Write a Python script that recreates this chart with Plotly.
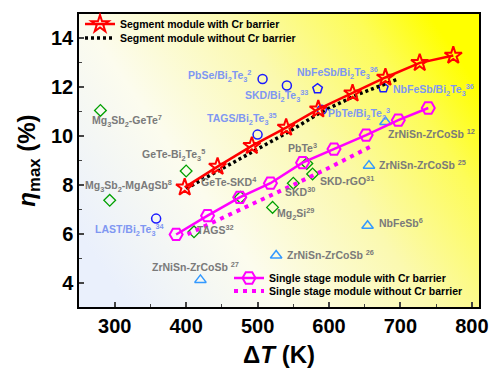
import base64
import plotly.graph_objects as go

# ---------------- data ----------------
seg_cr_dT = [398, 444, 492, 540, 585, 633, 679, 727, 774]
seg_cr_eta = [7.9, 8.75, 9.6, 10.35, 11.1, 11.75, 12.4, 13.0, 13.3]
seg_nocr_dT = [400, 450, 500, 545, 590, 640, 695]
seg_nocr_eta = [7.85, 8.65, 9.45, 10.2, 11.0, 11.7, 12.32]
single_cr_dT = [386, 430, 475, 518, 563, 607, 652, 697, 739]
single_cr_eta = [5.97, 6.74, 7.49, 8.07, 8.91, 9.47, 10.04, 10.65, 11.15]
single_nocr_dT = [402, 450, 500, 550, 600, 663]
single_nocr_eta = [5.98, 6.62, 7.32, 8.0, 8.7, 9.64]

circ_dT = [507, 500, 541, 590, 358]
circ_eta = [12.34, 10.06, 12.07, 11.08, 6.62]
pent_dT = [584, 676]
pent_eta = [11.94, 11.98]
tri_dT = [679, 656, 526, 420, 654]
tri_eta = [10.58, 8.79, 5.11, 4.11, 6.33]
dia_dT = [280, 400, 293, 411, 476, 521, 550, 577, 569]
dia_eta = [11.05, 8.57, 7.37, 6.08, 7.49, 7.08, 8.07, 8.45, 8.88]

blue_texts = ["PbSe/Bi<sub>2</sub>Te<sub>3</sub><sup>2</sup>",
              "SKD/Bi<sub>2</sub>Te<sub>3</sub><sup>33</sup>",
              "TAGS/Bi<sub>2</sub>Te<sub>3</sub><sup>35</sup>",
              "NbFeSb/Bi<sub>2</sub>Te<sub>3</sub><sup>36</sup>",
              "NbFeSb/Bi<sub>2</sub>Te<sub>3</sub><sup>36</sup>",
              "PbTe/Bi<sub>2</sub>Te<sub>3</sub><sup>3</sup>",
              "LAST/Bi<sub>2</sub>Te<sub>3</sub><sup>34</sup>"]
blue_x = [400, 479, 426, 553, 687, 596, 269]
blue_y = [12.45, 11.63, 10.72, 12.59, 11.87, 10.92, 6.17]

gray_texts = ["ZrNiSn-ZrCoSb <sup>12</sup>", "ZrNiSn-ZrCoSb <sup>25</sup>",
              "PbTe<sup>3</sup>", "SKD-rGO<sup>31</sup>", "SKD<sup>30</sup>",
              "Mg<sub>2</sub>Si<sup>29</sup>", "NbFeSb<sup>6</sup>",
              "ZrNiSn-ZrCoSb <sup>26</sup>", "ZrNiSn-ZrCoSb <sup>27</sup>",
              "TAGS<sup>32</sup>", "Mg<sub>3</sub>Sb<sub>2</sub>-MgAgSb<sup>8</sup>",
              "Mg<sub>3</sub>Sb<sub>2</sub>-GeTe<sup>7</sup>",
              "GeTe-Bi<sub>2</sub>Te<sub>3</sub><sup>5</sup>", "GeTe-SKD<sup>4</sup>"]
gray_x = [680, 667, 540, 584, 535, 525, 667, 538, 350, 413, 255, 265, 335, 418]
gray_y = [10.1, 8.82, 9.55, 8.2, 7.73, 6.81, 6.47, 5.13, 4.65, 6.17, 7.94, 10.6, 9.22, 8.14]

x_ticks = [300, 400, 500, 600, 700, 800]
y_ticks = [4, 6, 8, 10, 12, 14]

FONT = "Liberation Sans, Arial, sans-serif"
RED = "#ff0000"
MAG = "#ff00ff"

fig = go.Figure()

# background gradient image
svg = ('<svg xmlns="http://www.w3.org/2000/svg" width="100" height="100" preserveAspectRatio="none">'
       '<defs><linearGradient id="g" x1="0" y1="0.75" x2="1" y2="0.25">'
       '<stop offset="0" stop-color="#eaf0fc"/>'
       '<stop offset="0.3" stop-color="#fcfcee"/>'
       '<stop offset="0.6" stop-color="#fbf9b0"/>'
       '<stop offset="0.85" stop-color="#fdfc58"/>'
       '<stop offset="1" stop-color="#ffff00"/>'
       '</linearGradient></defs><rect width="100" height="100" fill="url(#g)"/></svg>')
src = "data:image/svg+xml;base64," + base64.b64encode(svg.encode()).decode()
fig.add_layout_image(dict(source=src, xref="paper", yref="paper", x=0, y=1, sizex=1, sizey=1,
                          sizing="stretch", layer="below", xanchor="left", yanchor="top"))

# literature points
fig.add_trace(go.Scatter(x=circ_dT, y=circ_eta, mode="markers", showlegend=False,
                         marker=dict(symbol="circle-open", size=9, color="#1a1aff", line=dict(width=1.5))))
fig.add_trace(go.Scatter(x=pent_dT, y=pent_eta, mode="markers", showlegend=False,
                         marker=dict(symbol="pentagon-open", size=10, color="#1a1aff", line=dict(width=1.5))))
fig.add_trace(go.Scatter(x=tri_dT, y=tri_eta, mode="markers", showlegend=False,
                         marker=dict(symbol="triangle-up-open", size=10, color="#3399ff", line=dict(width=1.5))))
fig.add_trace(go.Scatter(x=dia_dT, y=dia_eta, mode="markers", showlegend=False,
                         marker=dict(symbol="diamond-open", size=9, color="#00a000", line=dict(width=1.3))))

# module series
fig.add_trace(go.Scatter(x=single_nocr_dT, y=single_nocr_eta, mode="lines",
                         name="Single stage module without Cr barrier", legend="legend4",
                         line=dict(color=MAG, width=4, dash="4px,5px")))
fig.add_trace(go.Scatter(x=single_cr_dT, y=single_cr_eta, mode="lines+markers",
                         name="Single stage module with Cr barrier", legend="legend3",
                         line=dict(color=MAG, width=2.5),
                         marker=dict(symbol="hexagon2-open", size=13, color=MAG, line=dict(width=2))))
fig.add_trace(go.Scatter(x=seg_nocr_dT, y=seg_nocr_eta, mode="lines",
                         name="Segment module without Cr barrier", legend="legend2",
                         line=dict(color="black", width=3.5, dash="3px,3px")))
fig.add_trace(go.Scatter(x=seg_cr_dT, y=seg_cr_eta, mode="lines+markers",
                         name="Segment module with Cr barrier", legend="legend",
                         line=dict(color=RED, width=2.5),
                         marker=dict(symbol="star-open", size=13, color=RED, line=dict(width=2))))

anns = []
for t, x, y in zip(blue_texts, blue_x, blue_y):
    anns.append(dict(x=x, y=y, text=t, showarrow=False, xanchor="left", yanchor="middle",
                     font=dict(family=FONT, size=10.5, color="#7f97f2", weight="bold")))
for t, x, y in zip(gray_texts, gray_x, gray_y):
    anns.append(dict(x=x, y=y, text=t, showarrow=False, xanchor="left", yanchor="middle",
                     font=dict(family=FONT, size=10.5, color="#7a7a7a", weight="bold")))

L, R, T, B = 79, 479, 14, 307
W, H = 492, 368


def px(xp):
    return (xp - L) / (R - L)


def py(yp):
    return (B - yp) / (B - T)


leg_common = dict(bgcolor="rgba(0,0,0,0)", borderwidth=0, xanchor="left", yanchor="middle",
                  font=dict(family=FONT, size=10.5, color="black", weight="bold"),
                  itemwidth=30, tracegroupgap=0)

fig.update_layout(
    width=W, height=H,
    margin=dict(l=L, r=W - R, t=T, b=H - B, autoexpand=False),
    paper_bgcolor="white", plot_bgcolor="rgba(0,0,0,0)",
    font=dict(family=FONT, color="black"),
    annotations=anns,
    legend=dict(x=px(80), y=py(24), **leg_common),
    legend2=dict(x=px(80), y=py(38), **leg_common),
    legend3=dict(x=px(229), y=py(278), **leg_common),
    legend4=dict(x=px(229), y=py(291), **leg_common),
    xaxis=dict(range=[250, 810], tickvals=x_ticks, ticks="inside", ticklen=5, tickwidth=1.5,
               showline=True, linecolor="black", linewidth=1.5, mirror=True,
               showgrid=False, zeroline=False, automargin=False,
               minor=dict(dtick=50, ticks="inside", ticklen=3, tickwidth=1.2, showgrid=False),
               tickfont=dict(family=FONT, size=20, color="black", weight="bold"),
               title=dict(text="Δ<i>T</i> (K)", standoff=17,
                          font=dict(family=FONT, size=24, color="black", weight="bold"))),
    yaxis=dict(range=[3, 15], tickvals=y_ticks, ticks="inside", ticklen=5, tickwidth=1.5,
               showline=True, linecolor="black", linewidth=1.5, mirror=True,
               showgrid=False, zeroline=False, automargin=False,
               minor=dict(dtick=1, ticks="inside", ticklen=3, tickwidth=1.2, showgrid=False),
               tickfont=dict(family=FONT, size=20, color="black", weight="bold"),
               title=dict(text="<i>η</i><sub>max</sub> (%)", standoff=9,
                          font=dict(family=FONT, size=24, color="black", weight="bold"))),
)

fig.write_html("out.html")
